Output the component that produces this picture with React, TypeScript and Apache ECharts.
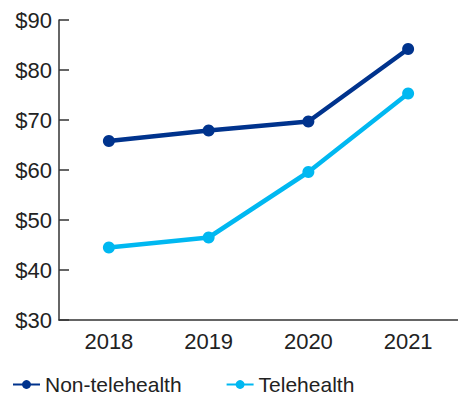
import React, { useEffect, useRef } from "react";
import * as echarts from "echarts";

const categories = ["2018", "2019", "2020", "2021"];
const nonTelehealth = [65.8, 67.9, 69.7, 84.2];
const telehealth = [44.5, 46.5, 59.6, 75.3];
const seriesNames = ["Non-telehealth", "Telehealth"];

const NAVY = "#00338D";
const CYAN = "#00B8F1";
const TEXT = "#222222";
const AXIS = "#333333";
const FONT = "'Liberation Sans', Arial, sans-serif";

export default function App() {
  const ref = useRef<HTMLDivElement>(null);
  useEffect(() => {
    if (!ref.current) return;
    const chart = echarts.init(ref.current, null, { renderer: "svg" });
    chart.setOption({
      animation: false,
      backgroundColor: "#ffffff",
      textStyle: { fontFamily: FONT },
      grid: { left: 59, top: 20, width: 400, height: 300 },
      legend: {
        left: 7,
        top: 369,
        itemWidth: 27,
        itemHeight: 11,
        itemGap: 44,
        itemTextGap: 8,
        textStyle: { fontSize: 21, color: TEXT, fontFamily: FONT },
        data: seriesNames,
      },
      xAxis: {
        type: "category",
        data: categories,
        boundaryGap: true,
        axisLine: { lineStyle: { color: AXIS, width: 1.5 } },
        axisTick: { inside: true, length: 10, lineStyle: { color: AXIS, width: 1.5 } },
        axisLabel: { fontSize: 22, color: TEXT, margin: 10, fontFamily: FONT },
        splitLine: { show: false },
      },
      yAxis: {
        type: "value",
        min: 30,
        max: 90,
        interval: 10,
        axisLine: { show: true, lineStyle: { color: AXIS, width: 1.5 } },
        axisTick: { show: true, inside: true, length: 10, lineStyle: { color: AXIS, width: 1.5 } },
        axisLabel: {
          fontSize: 22,
          color: TEXT,
          margin: 7,
          fontFamily: FONT,
          formatter: (v: number) => "$" + v,
        },
        splitLine: { show: false },
      },
      series: [
        {
          name: seriesNames[0],
          type: "line",
          data: nonTelehealth,
          color: NAVY,
          symbol: "circle",
          symbolSize: 12,
          lineStyle: { width: 4.5, color: NAVY },
          itemStyle: { color: NAVY },
        },
        {
          name: seriesNames[1],
          type: "line",
          data: telehealth,
          color: CYAN,
          symbol: "circle",
          symbolSize: 12,
          lineStyle: { width: 4.5, color: CYAN },
          itemStyle: { color: CYAN },
        },
      ],
    });
    return () => chart.dispose();
  }, []);
  return (
    <div
      ref={ref}
      style={{ position: "fixed", left: 0, top: 0, width: 458, height: 396, background: "#fff" }}
    />
  );
}
